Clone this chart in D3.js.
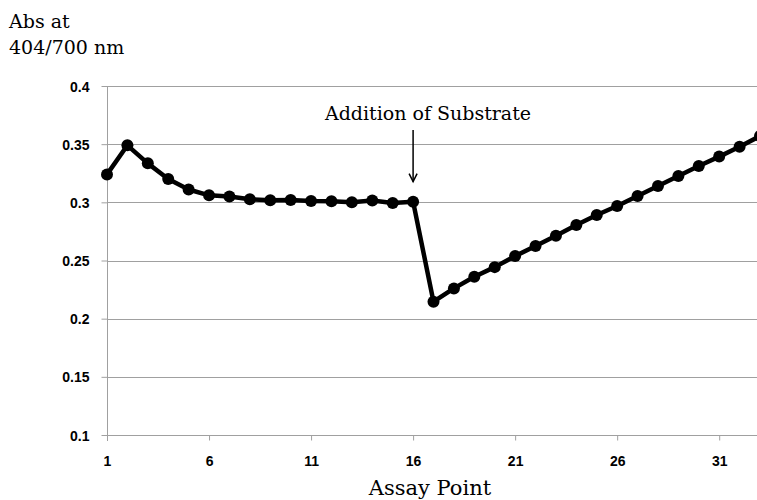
<!DOCTYPE html>
<html>
<head>
<meta charset="utf-8">
<script src="https://cdn.jsdelivr.net/npm/d3@7"></script>
<style>
  body { margin: 0; background: #fff; }
  svg { display: block; }
  .tick text { font-family: "Liberation Sans", Arial, sans-serif; font-weight: bold; font-size: 14px; fill: #000; }
  .serif { font-family: "DejaVu Serif", "Liberation Serif", serif; fill: #000; }
</style>
</head>
<body>
<svg id="chart"></svg>
<script>
var assayPoints = [1, 2, 3, 4, 5, 6, 7, 8, 9, 10, 11, 12, 13, 14, 15, 16, 17,
  18, 19, 20, 21, 22, 23, 24, 25, 26, 27, 28, 29, 30, 31, 32, 33];
var absValues = [0.324, 0.349, 0.3335, 0.320, 0.311, 0.306, 0.305, 0.3026, 0.3017,
  0.302, 0.3011, 0.3009, 0.300, 0.3015, 0.2995, 0.3006, 0.2146, 0.226, 0.236,
  0.2443, 0.2538, 0.2624, 0.2713, 0.2805, 0.2891, 0.2968, 0.3054, 0.314, 0.3226,
  0.3312, 0.3393, 0.3478, 0.357];
var xTicks = [1, 6, 11, 16, 21, 26, 31];
var yTicks = [0.1, 0.15, 0.2, 0.25, 0.3, 0.35, 0.4];
var annotation = { point: 16, text: "Addition of Substrate" };

var width = 757, height = 500;
var gridColor = "#a0a0a0";

var data = assayPoints.map((p, i) => ({ x: p, y: absValues[i] }));

var svg = d3.select("#chart")
  .attr("width", width)
  .attr("height", height);

/* Scales */
var xScale = d3.scaleLinear().domain([1, 33]).range([107, 760]);
var yScale = d3.scaleLinear().domain([0.1, 0.4]).range([435, 86]);

/* Gridlines */
svg.append("g")
  .selectAll("line")
  .data(yTicks.slice(1)).enter()
  .append("line")
  .attr("x1", 107).attr("x2", width)
  .attr("y1", d => Math.round(yScale(d)) + 0.5)
  .attr("y2", d => Math.round(yScale(d)) + 0.5)
  .attr("stroke", gridColor)
  .attr("stroke-width", 1);

/* Axes */
var yAxis = svg.append("g")
  .attr("transform", "translate(107.5,0)")
  .call(d3.axisLeft(yScale).tickValues(yTicks).tickFormat(d => String(+d.toFixed(2))).tickSize(6).tickPadding(12));
yAxis.select(".domain").attr("stroke", gridColor).attr("d", "M0," + (yScale(0.4) + 0.5) + "V" + (yScale(0.1) + 6));
yAxis.selectAll(".tick line").attr("stroke", gridColor);
yAxis.selectAll(".tick text").attr("dy", "0.36em");

var xAxis = svg.append("g")
  .attr("transform", "translate(0," + (Math.round(yScale(0.1)) + 0.5) + ")")
  .call(d3.axisBottom(xScale).tickValues(xTicks).tickFormat(d3.format("d")).tickSize(5).tickPadding(16));
xAxis.select(".domain").attr("stroke", gridColor).attr("d", "M107,0H" + width);
xAxis.selectAll(".tick line").attr("stroke", gridColor);

/* Line and markers */
var line = d3.line()
  .x(d => xScale(d.x))
  .y(d => yScale(d.y));

svg.append("path")
  .datum(data)
  .attr("d", line)
  .attr("fill", "none")
  .attr("stroke", "#000")
  .attr("stroke-width", 4.5)
  .attr("stroke-linejoin", "round");

svg.append("g")
  .selectAll("circle")
  .data(data).enter()
  .append("circle")
  .attr("cx", d => xScale(d.x))
  .attr("cy", d => yScale(d.y))
  .attr("r", 6)
  .attr("fill", "#000");

/* Annotation */
var ax = xScale(annotation.point);
var ay = yScale(absValues[annotation.point - 1]);
svg.append("text")
  .attr("class", "serif")
  .attr("x", 428).attr("y", 120)
  .attr("text-anchor", "middle")
  .attr("font-size", 19)
  .text(annotation.text);
svg.append("line")
  .attr("x1", ax).attr("x2", ax)
  .attr("y1", 130).attr("y2", ay - 20)
  .attr("stroke", "#000").attr("stroke-width", 1.5);
svg.append("path")
  .attr("d", `M${ax - 4},${ay - 28}L${ax},${ay - 20}L${ax + 4},${ay - 28}`)
  .attr("fill", "none").attr("stroke", "#000").attr("stroke-width", 1.5);

/* Axis titles */
svg.append("text")
  .attr("class", "serif")
  .attr("x", 9).attr("y", 28)
  .attr("font-size", 19)
  .text("Abs at");
svg.append("text")
  .attr("class", "serif")
  .attr("x", 9).attr("y", 54)
  .attr("font-size", 19)
  .text("404/700 nm");
svg.append("text")
  .attr("class", "serif")
  .attr("x", 430).attr("y", 495)
  .attr("text-anchor", "middle")
  .attr("font-size", 21)
  .text("Assay Point");
</script>
</body>
</html>
